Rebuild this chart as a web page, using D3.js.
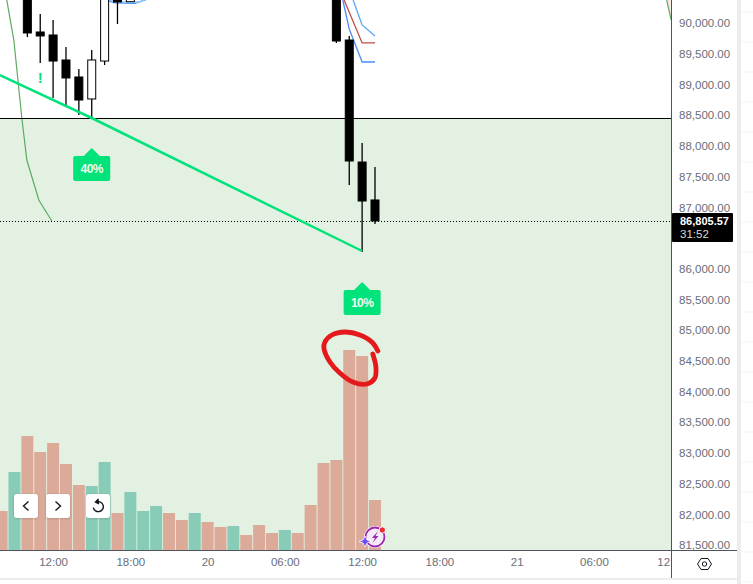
<!DOCTYPE html>
<html>
<head>
<meta charset="utf-8">
<script src="https://cdn.jsdelivr.net/npm/d3@7/dist/d3.min.js"></script>
<style>
    html, body { margin: 0; padding: 0; background: #fff; overflow: hidden; }
    svg { display: block; }
    text { font-family: "Liberation Sans", Arial, sans-serif; }
</style>
</head>
<body>
<svg id="graph" width="753" height="584"></svg>
<script>
// candles: slot (30 min each), open, high, low, close
let slotsBougies = [2, 3, 4, 5, 6, 7, 8, 9, 10, 26, 27, 28, 29];
let ouverture = [90730, 89883, 89834, 89427, 89150, 88792, 89410, 90600, 90376, 91000, 89752, 87765, 87147];
let haut = [91000, 90176, 90078, 89638, 89280, 89590, 90900, 90800, 90650, 91100, 89818, 88075, 87684];
let bas = [89801, 89378, 88808, 88678, 88531, 88482, 89345, 90013, 90376, 89704, 87391, 86300, 86756];
let cloture = [89867, 89818, 89410, 89134, 88775, 89427, 90700, 90371, 90500, 89736, 87782, 87130, 86805.57];

// volume, one bar per slot from 0 to 29
let volumes = [3.9, 7.8, 11.4, 9.8, 10.7, 8.6, 6.5, 6.4, 8.8, 3.7, 5.8, 3.9, 4.4, 3.7, 3.0, 3.7, 2.8, 2.3, 2.4, 1.5, 2.5, 1.7, 2.0, 1.7, 4.5, 8.7, 9.0, 20.0, 19.4, 5.0];
let sensVolumes = ["d", "u", "d", "d", "d", "d", "d", "u", "u", "d", "u", "u", "u", "d", "d", "u", "d", "d", "u", "d", "d", "d", "u", "d", "d", "d", "d", "d", "d", "d"];

// axis labels (86,500.00 sits behind the price label, so it is not listed)
let prixTicks = [90000, 89500, 89000, 88500, 88000, 87500, 87000, 86000, 85500, 85000, 84500, 84000, 83500, 83000, 82500, 82000, 81500];
let tempsSlots = [4, 10, 16, 22, 28, 34, 40, 46, 52];
let tempsLabels = ["12:00", "18:00", "20", "06:00", "12:00", "18:00", "21", "06:00", "12:00"];

// drawn lines as [slot, price]
let tendance = [[-0.14, 89182], [7, 88482], [28, 86316]];
let moyenneVerte = [[0.4, 90404], [0.95, 89752], [1.57, 88482], [1.96, 87798], [2.89, 87147], [3.9, 86805]];
let moyenneVerte2 = [[51.65, 90404], [52, 90080]];
let bleuClair = [[27.3, 90404], [28, 89997], [29, 89818]];
let rouge = [[26.6, 90404], [28, 89704], [29, 89704]];
let bleu = [[26.5, 90404], [27, 89932], [28, 89394], [29, 89394]];
let arcBleu = [[7.8, 90420], [8.8, 90355], [10.35, 90347], [11.36, 90420]];
let arcClair = [[8, 90420], [9.2, 90371], [10.7, 90371], [11.2, 90420]];
let cercleRouge = [[29.22, 84687], [28.83, 84818], [27.83, 84948], [26.66, 84997], [25.65, 84948], [25.11, 84834], [25.03, 84736], [25.5, 84508], [26.27, 84329], [27.28, 84182], [28.37, 84150], [28.99, 84247], [29.07, 84427], [28.83, 84638]];

let prixActuel = 86805.57;
let prixLigne = 88482;

let svg = d3.select("#graph");
let largeur = 753, hauteur = 584;
let droitGraph = 671, basGraph = 550;

let x = d3.scaleLinear().domain([0, 29]).range([1.6, 375]);
let y = d3.scaleLinear().domain([87000, 81500]).range([209, 546.7]);
let yVol = d3.scaleLinear().domain([0, 20]).range([basGraph, 350]);

let defs = svg.append("defs");
defs.append("clipPath").attr("id", "clipGraph").append("rect")
    .attr("width", droitGraph).attr("height", basGraph);
defs.append("clipPath").attr("id", "clipAxe").append("rect")
    .attr("y", basGraph).attr("width", droitGraph).attr("height", hauteur - basGraph);
let ombre = defs.append("filter").attr("id", "ombre")
    .attr("x", "-30%").attr("y", "-30%").attr("width", "160%").attr("height", "160%");
ombre.append("feDropShadow").attr("dx", 0).attr("dy", 0.5).attr("stdDeviation", 1.2)
    .attr("flood-color", "#000").attr("flood-opacity", 0.22);

let graph = svg.append("g").attr("clip-path", "url(#clipGraph)");

// green zone under the horizontal line
graph.append("rect")
    .attr("x", 0).attr("y", y(prixLigne))
    .attr("width", droitGraph).attr("height", basGraph - y(prixLigne))
    .attr("fill", "#e2f1e2");

// pink corner, top right
graph.append("path")
    .attr("d", d3.line().x(d => x(d[0])).y(d => y(d[1]))([[51.65, 90404], [52, 90080], [52.2, 90404]]))
    .attr("fill", "#fbe6e4");

// volume
graph.selectAll(".volume")
    .data(volumes)
    .join("rect")
    .attr("class", "volume")
    .attr("x", (d, i) => x(i) - 6)
    .attr("y", d => yVol(d))
    .attr("width", 12)
    .attr("height", d => basGraph - yVol(d))
    .attr("fill", (d, i) => sensVolumes[i] == "u" ? "#88ccb7" : "#dcaa99");

let trait = d3.line().x(d => x(d[0])).y(d => y(d[1]));

function dessineLigne(points, couleur, epaisseur) {
    return graph.append("path")
        .attr("d", trait(points))
        .attr("fill", "none")
        .attr("stroke", couleur)
        .attr("stroke-width", epaisseur);
}

dessineLigne(moyenneVerte, "#5cab60", 1.2);
dessineLigne(moyenneVerte2, "#5cab60", 1.2);
dessineLigne(bleuClair, "#55a9f6", 1.3);
dessineLigne(rouge, "#c24a4a", 1.3);
dessineLigne(bleu, "#4d8ff5", 1.3);
dessineLigne(arcBleu, "#3f8ef5", 1.2);
dessineLigne(arcClair, "#8cc8fa", 1.5);

// horizontal line and current price, snapped on a pixel row
graph.append("line")
    .attr("x1", 0).attr("x2", droitGraph)
    .attr("y1", Math.floor(y(prixLigne)) + 0.5).attr("y2", Math.floor(y(prixLigne)) + 0.5)
    .attr("stroke", "#000").attr("stroke-width", 1);
graph.append("line")
    .attr("x1", 0).attr("x2", droitGraph)
    .attr("y1", Math.round(y(prixActuel)) + 0.5).attr("y2", Math.round(y(prixActuel)) + 0.5)
    .attr("stroke", "#000").attr("stroke-width", 1)
    .attr("stroke-dasharray", "1 2");

// candles
let bougies = graph.selectAll(".bougie")
    .data(slotsBougies)
    .join("g")
    .attr("class", "bougie");

bougies.append("line")
    .attr("x1", d => x(d)).attr("x2", d => x(d))
    .attr("y1", (d, i) => y(haut[i]))
    .attr("y2", (d, i) => y(bas[i]))
    .attr("stroke", "#000").attr("stroke-width", 1.3);

bougies.append("rect")
    .attr("x", d => x(d) - 4)
    .attr("y", (d, i) => y(Math.max(ouverture[i], cloture[i])))
    .attr("width", 8)
    .attr("height", (d, i) => Math.abs(y(ouverture[i]) - y(cloture[i])))
    .attr("fill", (d, i) => cloture[i] > ouverture[i] ? "#fff" : "#000")
    .attr("stroke", "#000").attr("stroke-width", 1);

// trend line goes above the candles
dessineLigne(tendance, "#00e27a", 2.5);

// exclamation mark
graph.append("text")
    .attr("x", x(3)).attr("y", y(89052))
    .attr("text-anchor", "middle")
    .attr("font-size", "15px").attr("font-weight", "bold")
    .attr("fill", "#00e27a")
    .text("!");

// percent badges
let badges = [[7, 87993, "40%"], [28, 85811, "10%"]];
let badge = graph.selectAll(".badge")
    .data(badges)
    .join("g")
    .attr("class", "badge")
    .attr("transform", d => `translate(${x(d[0])},${y(d[1])})`);
badge.append("path")
    .attr("d", "M-8,8 L0,0 L8,8 Z")
    .attr("fill", "#00e27a");
badge.append("rect")
    .attr("x", -18.5).attr("y", 8)
    .attr("width", 37).attr("height", 25).attr("rx", 2)
    .attr("fill", "#00e27a");
badge.append("text")
    .attr("y", 24.5)
    .attr("text-anchor", "middle")
    .attr("font-size", "12px").attr("font-weight", "bold")
    .attr("letter-spacing", "-0.6px")
    .attr("fill", "#eefcf3")
    .text(d => d[2]);

// hand drawn red circle
graph.append("path")
    .attr("d", d3.line().x(d => x(d[0])).y(d => y(d[1])).curve(d3.curveCatmullRom)(cercleRouge))
    .attr("fill", "none")
    .attr("stroke", "#e5191c")
    .attr("stroke-width", 4.8)
    .attr("stroke-linecap", "round");

// replay buttons
let boutons = [[26, "g"], [58, "d"], [98, "r"]];
let bouton = svg.selectAll(".bouton")
    .data(boutons)
    .join("g")
    .attr("class", "bouton")
    .attr("transform", d => `translate(${d[0]},506)`);
bouton.append("rect")
    .attr("x", -12).attr("y", -12)
    .attr("width", 24).attr("height", 24).attr("rx", 3)
    .attr("fill", "#fff")
    .attr("filter", "url(#ombre)");
bouton.filter(d => d[1] == "g").append("path").attr("d", "M2.5,-4.5 L-2.5,0 L2.5,4.5");
bouton.filter(d => d[1] == "d").append("path").attr("d", "M-2.5,-4.5 L2.5,0 L-2.5,4.5");
bouton.filter(d => d[1] == "r").append("path").attr("d", "M-1.5,-4 A5,5 0 1 1 -4.6,1.5");
bouton.filter(d => d[1] == "r").append("path").attr("d", "M0.5,-7 L-2.5,-4 L1,-2").attr("fill", "#000");
bouton.selectAll("path")
    .attr("fill", function () { return this.getAttribute("fill") || "none"; })
    .attr("stroke", "#131722").attr("stroke-width", 1.4);

// price axis
let axePrix = svg.append("g")
    .attr("transform", `translate(${droitGraph},0)`)
    .call(d3.axisRight(y).tickValues(prixTicks).tickSize(0).tickPadding(8)
        .tickFormat(d => d3.format(",.2f")(d)));
axePrix.select(".domain").remove();
axePrix.selectAll("text")
    .attr("dy", null)
    .attr("y", -1)
    .attr("dominant-baseline", "middle")
    .attr("font-family", "Liberation Sans")
    .attr("font-size", "11.5px")
    .attr("fill", "#6a6d78");

// time axis
let axeTemps = svg.append("g")
    .attr("clip-path", "url(#clipAxe)")
    .append("g")
    .attr("transform", `translate(0,${basGraph})`)
    .call(d3.axisBottom(x).tickValues(tempsSlots).tickSize(0).tickPadding(8)
        .tickFormat((d, i) => tempsLabels[i]));
axeTemps.select(".domain").remove();
axeTemps.selectAll("text")
    .attr("font-family", "Liberation Sans")
    .attr("font-size", "11.5px")
    .attr("fill", "#6a6d78");

// frame
svg.append("line")
    .attr("x1", 0).attr("x2", 737)
    .attr("y1", basGraph + 0.5).attr("y2", basGraph + 0.5)
    .attr("stroke", "#50535e");
svg.append("line")
    .attr("x1", droitGraph + 0.5).attr("x2", droitGraph + 0.5)
    .attr("y1", 0).attr("y2", 578)
    .attr("stroke", "#50535e");

// strips around the widget
svg.append("rect").attr("x", 737).attr("y", 0).attr("width", 4).attr("height", hauteur).attr("fill", "#ececec");
svg.append("rect").attr("x", 0).attr("y", 578).attr("width", 741).attr("height", 2).attr("fill", "#ececec");
svg.selectAll(".repere")
    .data(d3.range(12, 584, 30))
    .join("line")
    .attr("class", "repere")
    .attr("x1", 741).attr("x2", largeur)
    .attr("y1", d => d).attr("y2", d => d)
    .attr("stroke", "#f3f3f3");

// current price label
let etiquette = svg.append("g").attr("transform", `translate(672,${y(prixActuel)})`);
etiquette.append("rect")
    .attr("y", -8).attr("width", 61).attr("height", 29).attr("rx", 1)
    .attr("fill", "#000");
etiquette.append("text")
    .attr("x", 8).attr("y", 4)
    .attr("font-size", "11px").attr("font-weight", "bold")
    .attr("fill", "#fff")
    .text(d3.format(",.2f")(prixActuel));
etiquette.append("text")
    .attr("x", 8).attr("y", 17)
    .attr("font-size", "11.5px")
    .attr("fill", "#d8d8d8")
    .text("31:52");

// settings hexagon
let reglage = svg.append("g").attr("transform", "translate(704.5,564)");
reglage.append("path")
    .attr("d", "M-7,0 L-3.5,-5.5 L3.5,-5.5 L7,0 L3.5,5.5 L-3.5,5.5 Z")
    .attr("fill", "none").attr("stroke", "#131722").attr("stroke-width", 1);
reglage.append("circle").attr("r", 2.2)
    .attr("fill", "none").attr("stroke", "#131722").attr("stroke-width", 1);

// little purple icon
let icone = svg.append("g").attr("transform", "translate(375,537)");
icone.append("circle").attr("r", 11).attr("fill", "#fff").attr("opacity", 0.85);
icone.append("circle").attr("r", 9.5)
    .attr("fill", "#f5eaf7").attr("stroke", "#9c27b0").attr("stroke-width", 1.8);
icone.append("path")
    .attr("d", "M3,-6 L-3,1 L0,1 L-2.5,6 L3.5,-1 L0.5,-1 Z")
    .attr("fill", "#9c27b0");
icone.append("path")
    .attr("d", "M-10,-1 L-8,3 L-4,4.5 L-8,6 L-10,10 L-12,6 L-16,4.5 L-12,3 Z")
    .attr("fill", "#6a4df5").attr("stroke", "#fff").attr("stroke-width", 0.8);
icone.append("circle").attr("cx", 7.3).attr("cy", -7)
    .attr("r", 3.2).attr("fill", "#ee2a3a").attr("stroke", "#fff").attr("stroke-width", 1);
</script>
</body>
</html>
